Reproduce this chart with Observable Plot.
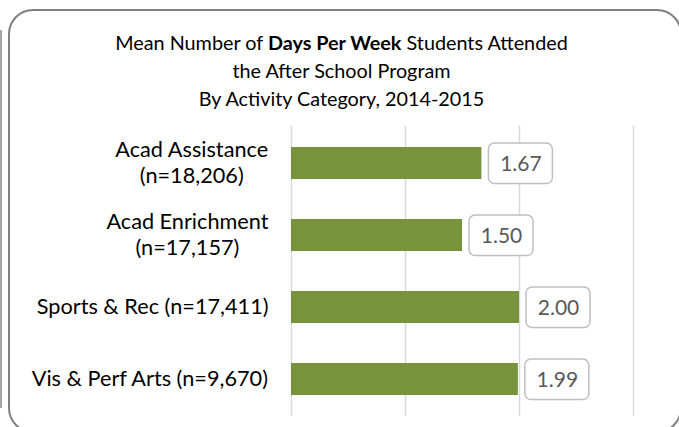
<!DOCTYPE html>
<html>
<head>
<meta charset="utf-8">
<script src="https://cdn.jsdelivr.net/npm/d3@7"></script>
<script src="https://cdn.jsdelivr.net/npm/@observablehq/plot@0.6"></script>
<style>
  html, body { margin: 0; padding: 0; background: #fff; }
  #wrap { position: relative; width: 679px; height: 427px; overflow: hidden; font-family: Lato, "Open Sans", sans-serif; }
  #frame { position: absolute; left: 8px; top: 9px; width: 670px; height: 420px; border: 2px solid #808080; border-radius: 25px; }
  #edge { position: absolute; left: 0px; top: 30px; width: 2px; height: 378px; background: #a6a6a6; }
  #title { position: absolute; left: 2px; top: 28px; width: 679px; text-align: center; font-size: 19.8px; line-height: 28px; color: #000; }
  #chart { position: absolute; left: 0; top: 0; }
</style>
</head>
<body>
<div id="wrap">
  <div id="edge"></div>
  <div id="frame"></div>
  <div id="title">Mean Number of <b>Days Per Week</b> Students Attended<br>the After School Program<br>By Activity Category, 2014-2015</div>
  <div id="chart"></div>
</div>
<script>
const categories = [
  "Acad Assistance\n(n=18,206)",
  "Acad Enrichment\n(n=17,157)",
  "Sports & Rec (n=17,411)",
  "Vis & Perf Arts (n=9,670)"
];
const values = [1.67, 1.50, 2.00, 1.99];
const gridTicks = [0, 1, 2, 3];

const data = categories.map((c, i) => ({category: c, value: values[i]}));
const FONT = "Lato, 'Open Sans', sans-serif";
const LABEL_SIZE = 21.7;

const cv = document.createElement("canvas").getContext("2d");
cv.font = `${LABEL_SIZE}px ${FONT}`;

const chart = Plot.plot({
  width: 679,
  height: 427,
  marginLeft: 291,
  marginRight: 46,
  marginTop: 126,
  marginBottom: 11,
  style: {fontFamily: FONT, background: "transparent", overflow: "visible"},
  x: {domain: [0, 3], axis: null},
  y: {domain: categories, axis: null, paddingInner: 0.55, paddingOuter: 0.275},
  marks: [
    Plot.ruleX(gridTicks, {stroke: "#d9d9d9", strokeWidth: 1.5}),
    Plot.barX(data, {x: "value", y: "category", fill: "#77933c"}),
    Plot.rect(data, {
      x1: "value", x2: "value", y: "category",
      insetLeft: 7, insetRight: -71, insetTop: -4, insetBottom: -4.5,
      rx: 6, fill: "white", stroke: "#bfbfbf", strokeWidth: 1.5
    }),
    Plot.text(data, {
      x: "value", y: "category", text: d => d.value.toFixed(2),
      dx: 39, dy: 1, textAnchor: "middle", fontSize: 21, fill: "#595959"
    }),
    Plot.text(data, {
      x: () => 0, y: "category", text: "category",
      dx: -23, dy: -2, textAnchor: "end", lineAnchor: "middle", lineHeight: 1.23,
      fontSize: LABEL_SIZE, fill: "#000",
      render(index, scales, vals, dims, ctx, next) {
        const g = next(index, scales, vals, dims, ctx);
        g.setAttribute("text-anchor", "middle");
        for (const t of g.querySelectorAll("text")) {
          t.setAttribute("text-anchor", "middle");
          const spans = [...t.querySelectorAll("tspan")];
          const lines = spans.length ? spans.map(s => s.textContent) : [t.textContent];
          const w = Math.max(...lines.map(l => cv.measureText(l).width));
          const tr = t.getAttribute("transform") || "";
          t.setAttribute("transform", tr + ` translate(${-w / 2},0)`);
        }
        return g;
      }
    })
  ]
});
document.getElementById("chart").appendChild(chart);
</script>
</body>
</html>
